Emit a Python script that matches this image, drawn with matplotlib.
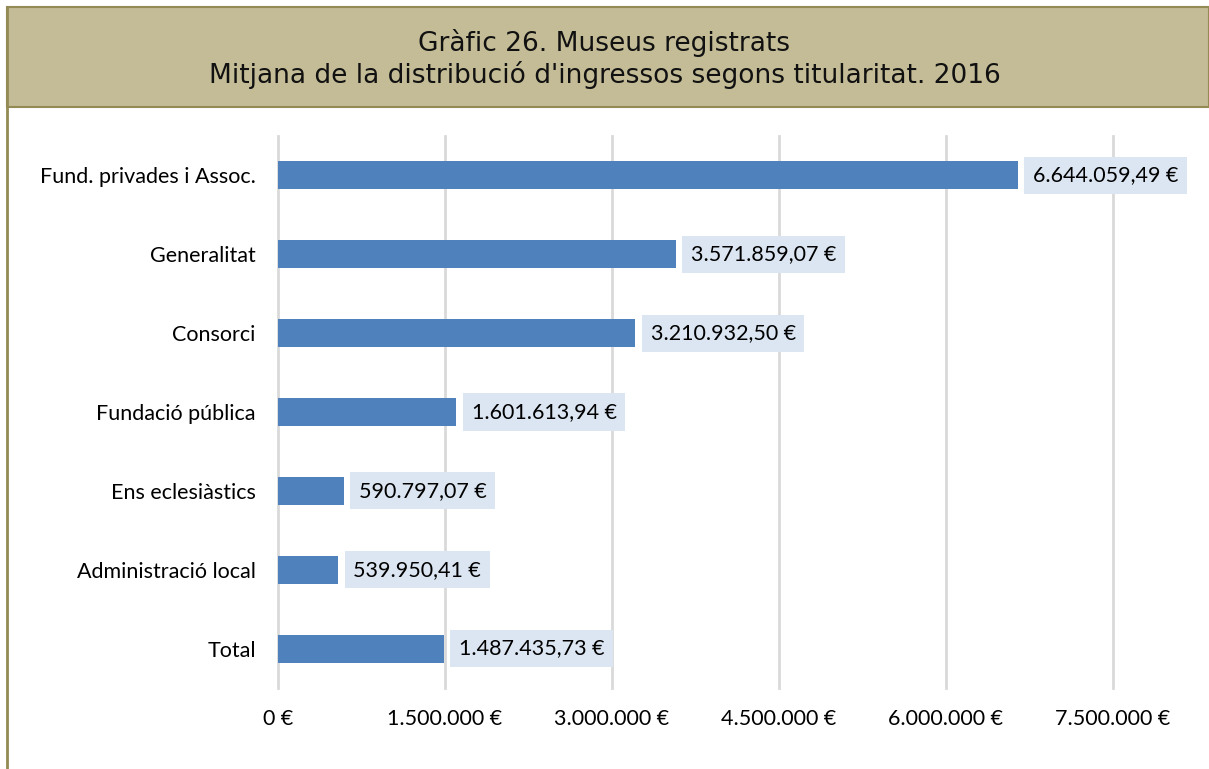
import numpy as np
import matplotlib.pyplot as plt
from matplotlib.patches import Rectangle
from matplotlib.lines import Line2D
from matplotlib.ticker import FuncFormatter

# data
categories = ['Fund. privades i Assoc.', 'Generalitat', 'Consorci', 'Fundació pública',
              'Ens eclesiàstics', 'Administració local', 'Total']
values = [6644059.49, 3571859.07, 3210932.50, 1601613.94, 590797.07, 539950.41, 1487435.73]
value_labels = ['6.644.059,49 €', '3.571.859,07 €', '3.210.932,50 €', '1.601.613,94 €',
                '590.797,07 €', '539.950,41 €', '1.487.435,73 €']
xticks = [0, 1500000, 3000000, 4500000, 6000000, 7500000]

W, H = 1209, 769
fig = plt.figure(figsize=(W / 100, H / 100), dpi=100)

# title band
fig.patches.append(Rectangle((7 / W, 1 - 107 / H), 1 - 7 / W, 100 / H, transform=fig.transFigure,
                             facecolor='#C4BC96', edgecolor='#948A54', lw=1.5, zorder=0))
fig.lines.append(Line2D([7 / W, 7 / W], [0, 1 - 7 / H], transform=fig.transFigure,
                        color='#948A54', lw=2))
fig.text(0.5, 1 - 43 / H, 'Gràfic 26. Museus registrats', ha='center', va='center',
         fontsize=19, family='DejaVu Sans', color='#111111')
fig.text(0.5, 1 - 75 / H, "Mitjana de la distribució d'ingressos segons titularitat. 2016",
         ha='center', va='center', fontsize=19, family='DejaVu Sans', color='#111111')

ax = fig.add_axes([278 / W, 1 - 688 / H, (1113 - 278) / W, (688 - 136) / H])
y = np.arange(len(categories))
ax.barh(y, values, height=0.355, color='#4F81BD', zorder=3)
ax.set_ylim(len(categories) - 0.5, -0.5)
ax.set_xlim(0, 7500000)
ax.set_yticks(y)
ax.set_yticklabels(categories, fontsize=15.5, family='Lato')
ax.set_xticks(xticks)
ax.xaxis.set_major_formatter(FuncFormatter(lambda v, p: '{:,.0f} €'.format(v).replace(',', '.')))
for lab in ax.get_xticklabels():
    lab.set_family('Lato')
    lab.set_fontsize(15.5)
ax.tick_params(length=0)
ax.tick_params(axis='y', pad=16)
ax.tick_params(axis='x', pad=15)
ax.grid(axis='x', color='#D9D9D9', lw=2, zorder=0)
for gl in ax.get_xgridlines():
    gl.set_clip_on(False)
for s in ax.spines.values():
    s.set_visible(False)

for yi, v, t in zip(y, values, value_labels):
    ax.annotate(t, (v, yi), xytext=(11, 0), textcoords='offset points', va='center', ha='left',
                fontsize=15.5, family='Lato', clip_on=False, zorder=4,
                bbox=dict(boxstyle='square,pad=0.4', facecolor='#DCE6F2', edgecolor='none'))

fig.savefig('out.png', dpi=100)
